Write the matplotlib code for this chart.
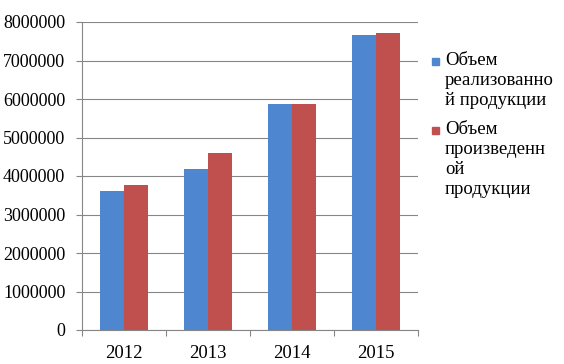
import matplotlib.pyplot as plt
from matplotlib.patches import Rectangle
from matplotlib.ticker import FixedLocator
import numpy as np

plt.rcParams['font.family'] = ['Liberation Serif', 'DejaVu Serif']

years = ['2012', '2013', '2014', '2015']
sold = [3620000, 4180000, 5880000, 7660000]
produced = [3760000, 4600000, 5860000, 7710000]
labels = ['Объем\nреализованно\nй продукции', 'Объем\nпроизведенн\nой\nпродукции']
colors = ['#4F86D0', '#C0504D']
yticks = [0, 1000000, 2000000, 3000000, 4000000, 5000000, 6000000, 7000000, 8000000]

W, H = 564, 364
fig = plt.figure(figsize=(W / 100, H / 100), dpi=100)
ax = fig.add_axes([82 / W, 1 - 330 / H, 336 / W, 308 / H])

x = np.arange(len(years))
bw = 0.286
ax.bar(x - bw / 2, sold, bw, color=colors[0], zorder=3)
ax.bar(x + bw / 2, produced, bw, color=colors[1], zorder=3)

ax.set_xlim(-0.5, len(years) - 0.5)
ax.set_ylim(0, 8000000)
ax.set_yticks(yticks)
ax.set_yticklabels([str(v) for v in yticks], fontsize=13)
ax.set_xticks(x)
ax.set_xticklabels(years, fontsize=13.5)
ax.xaxis.set_minor_locator(FixedLocator(np.arange(-0.5, len(years), 1.0)))
ax.tick_params(axis='x', which='major', length=0, pad=11)
ax.tick_params(axis='x', which='minor', length=4, color='#868686', width=0.8)
ax.tick_params(axis='y', length=4, color='#868686', width=0.8, pad=8)
ax.grid(axis='y', color='#868686', linewidth=0.8, zorder=0)
for s in ['top', 'right']:
    ax.spines[s].set_visible(False)
for s in ['left', 'bottom']:
    ax.spines[s].set_color('#868686')
    ax.spines[s].set_linewidth(0.8)

# legend, drawn by hand so the marker sits on the first line
tops = [52, 121]
for lab, col, t in zip(labels, colors, tops):
    fig.patches.append(Rectangle((432 / W, 1 - (t + 13) / H), 7 / W, 7 / H,
                                 transform=fig.transFigure, color=col))
    fig.text(445 / W, 1 - t / H, lab, fontsize=13.5, va='top', ha='left',
             linespacing=1.22)

fig.savefig('out.png', dpi=100)
